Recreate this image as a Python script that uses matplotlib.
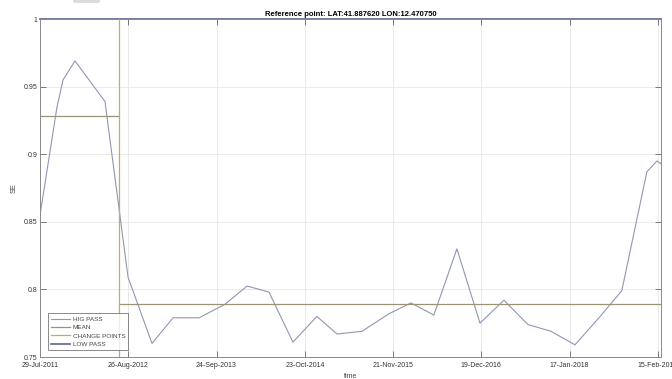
import matplotlib
matplotlib.use("Agg")
import matplotlib.pyplot as plt
from matplotlib.patches import FancyBboxPatch
import pandas as pd

# series
dates = ["2011-07-29", "2011-10-13", "2011-11-09", "2012-01-01", "2012-05-14",
         "2012-08-25", "2012-12-10", "2013-03-14", "2013-07-08", "2013-11-01",
         "2014-02-07", "2014-05-16", "2014-08-31", "2014-12-16", "2015-03-16",
         "2015-07-05", "2015-11-03", "2016-02-09", "2016-05-21", "2016-09-01",
         "2016-12-13", "2017-03-30", "2017-07-15", "2017-10-26", "2018-02-10",
         "2018-05-28", "2018-09-07", "2018-12-28", "2019-02-11", "2019-02-28"]
se = [0.855, 0.935, 0.955, 0.969, 0.939,
      0.809, 0.760, 0.779, 0.779, 0.789,
      0.8025, 0.798, 0.761, 0.780, 0.767,
      0.769, 0.782, 0.790, 0.781, 0.830,
      0.775, 0.792, 0.774, 0.769, 0.759,
      0.779, 0.799, 0.887, 0.895, 0.893]

change_point = "2012-07-16"
mean_levels = [0.9285, 0.7895]
low_pass_level = 1.0

tick_dates = ["2011-07-29", "2012-08-26", "2013-09-24", "2014-10-23",
              "2015-11-21", "2016-12-19", "2018-01-17", "2019-02-15"]
tick_labels = ["29-Jul-2011", "26-Aug-2012", "24-Sep-2013", "23-Oct-2014",
               "21-Nov-2015", "19-Dec-2016", "17-Jan-2018", "15-Feb-2019"]
y_ticks = [0.75, 0.8, 0.85, 0.9, 0.95, 1]
y_labels = ["0.75", "0.8", "0.85", "0.9", "0.95", "1"]

t = pd.to_datetime(dates)
cp = pd.Timestamp(change_point)
x_start = t[0]
x_end = pd.Timestamp("2019-03-01")

plt.rcParams["font.family"] = ["Liberation Sans", "DejaVu Sans"]

fig = plt.figure(figsize=(6.72, 3.79), dpi=100)
ax = fig.add_axes([40 / 672, 22 / 379, 621 / 672, 338 / 379])

# little grey toolbar stub at the top
fig.patches.append(FancyBboxPatch((73 / 672, 376 / 379), 27 / 672, 6 / 379,
                                  boxstyle="round,pad=0,rounding_size=0.004",
                                  transform=fig.transFigure, color="#dcdcdc",
                                  lw=0))

ax.plot(t, se, color="#9296b4", lw=0.8, label="HIG PASS")
ax.plot([x_start, cp], [mean_levels[0]] * 2, color="#9a937a", lw=0.9,
        label="MEAN")
ax.plot([cp, x_end], [mean_levels[1]] * 2, color="#9a937a", lw=0.9)
ax.plot([cp, cp], [0.75, 1.0], color="#bcae62", lw=0.9,
        label="CHANGE POINTS", zorder=3)
ax.plot([x_start, t[-1]], [low_pass_level] * 2, color="#6c7198", lw=1.3,
        label="LOW PASS", clip_on=False)

ax.set_xlim(x_start, x_end)
ax.set_ylim(0.75, 1.0)
ax.set_xticks(pd.to_datetime(tick_dates))
ax.set_xticklabels(tick_labels)
ax.set_yticks(y_ticks)
ax.set_yticklabels(y_labels)

ax.grid(True, color="#e6e6e6", lw=0.6)
ax.set_axisbelow(True)
ax.tick_params(direction="in", length=4, width=0.6, colors="#666666",
               labelsize=5, labelcolor="#333333", top=True, right=True,
               labeltop=False, labelright=False)
ax.tick_params(axis="x", pad=3.5)
ax.tick_params(axis="y", pad=2)
for s in ax.spines.values():
    s.set_color("#8a8a8a")
    s.set_linewidth(0.7)

ax.set_title("Reference point: LAT:41.887620 LON:12.470750",
             fontsize=5.5, fontweight="bold", pad=2)
ax.set_xlabel("time", fontsize=5, color="#444444", labelpad=3)
ax.set_ylabel("SE", fontsize=5.3, color="#444444", labelpad=4)

leg = ax.legend(loc="lower left", fontsize=4.6, frameon=True, fancybox=False,
                edgecolor="#555555", handlelength=3.0, handletextpad=0.4,
                borderpad=0.45, labelspacing=0.45,
                bbox_to_anchor=(0.008, 0.012))
leg.get_frame().set_linewidth(0.6)
for txt in leg.get_texts():
    txt.set_color("#444444")

fig.savefig("out.png", dpi=100)
